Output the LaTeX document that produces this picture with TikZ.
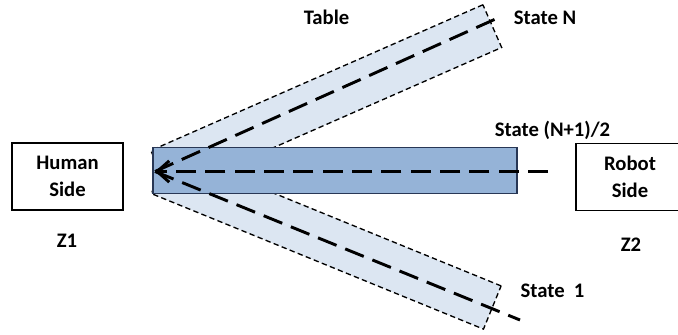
\documentclass[tikz,border=0pt]{standalone}
\usepackage{fontspec}
\setmainfont{Carlito}
\usetikzlibrary{arrows.meta,positioning}
\definecolor{laneblue}{RGB}{220,230,242}
\definecolor{midblue}{RGB}{149,179,215}
\definecolor{navy}{RGB}{40,55,85}

\begin{document}
\begin{tikzpicture}[
    x=0.75pt, y=-0.75pt,
    font=\fontsize{15.5}{20}\selectfont\bfseries,
    side/.style={draw, line width=1.1pt, minimum width=83pt, minimum height=50pt, align=center},
    lane/.style={draw, fill=laneblue, line width=1pt, dash pattern=on 4pt off 2.5pt, minimum height=35pt, inner sep=0pt},
    track/.style={line width=2.2pt, dash pattern=on 15pt off 7pt}
  ]
  \clip (0,0) rectangle (678,335);

  \node[side] (human) at (67.5,176.5) {Human\\Side};
  \node[side, minimum width=81pt] (robot) at (630,177) {Robot\\Side};
  \node (z1) at (67,241) {Z1};
  \node (z2) at (631,245) {Z2};

  % the two slanted lanes and the middle one
  \node[lane, minimum width=272pt, rotate=23.7] (laneN) at (326.25,99) {};
  \node[lane, minimum width=269pt, rotate=-22.2] (lane1) at (326.25,239.75) {};
  \node[draw=navy, fill=midblue, line width=1.1pt, minimum width=273pt, minimum height=34.5pt, inner sep=0pt] (mid) at (335,170.5) {};

  \coordinate (tip) at (155,171.5);
  \coordinate (endN) at (500,17);
  \coordinate (end1) at (520,320);
  \coordinate (endM) at (548,171.5);
  \draw[track, -{Straight Barb[length=9pt,width=16pt]}] (endM) -- (tip);
  \draw[track] (tip) -- (endN);
  \draw[track] (tip) -- (end1);

  \node (tbl) at (326.5,17) {Table};
  \node (stN) at (545,18) {State N};
  \node (stM) at (552.5,130) {State (N+1)/2};
  \node (st1) at (552.5,291) {State\ \ 1};
\end{tikzpicture}
\end{document}
